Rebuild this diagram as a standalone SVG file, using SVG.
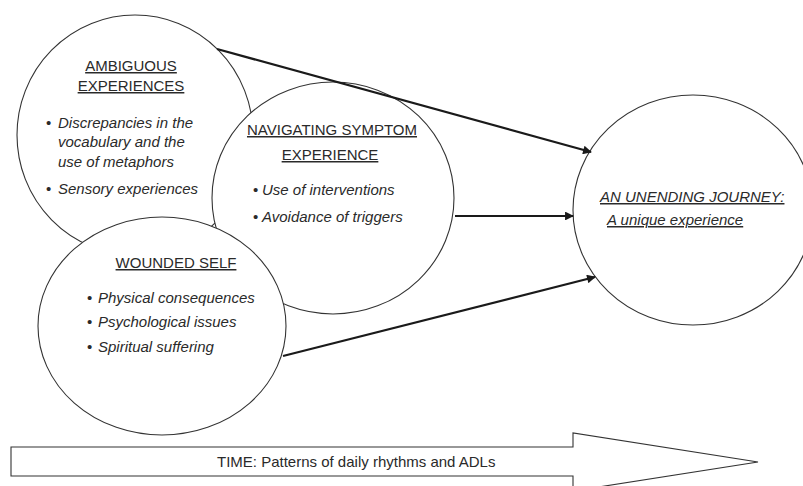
<svg xmlns="http://www.w3.org/2000/svg" width="803" height="486" viewBox="0 0 803 486">
<defs>
<style>
.circ{fill:#fff;stroke:#333;stroke-width:1.1}
.t{font-family:"Liberation Sans",Arial,sans-serif;font-size:15px;fill:#2a2a2a}
.title{text-decoration:underline}
.it{font-style:italic}
.mid{text-anchor:middle}
.conn{stroke:#1a1a1a;stroke-width:2.2;fill:none}
</style>
<marker id="ah" viewBox="0 0 10 10" refX="9" refY="5" markerWidth="5" markerHeight="4" orient="auto" markerUnits="strokeWidth">
<path d="M0,0 L10,5 L0,10 Z" fill="#1a1a1a"/>
</marker>
</defs>
<rect width="803" height="486" fill="#fff"/>
<g id="ambiguous">
<ellipse class="circ" cx="135" cy="135" rx="118" ry="120"/>
<text class="t title mid" x="131" y="71">AMBIGUOUS</text>
<text class="t title mid" x="131" y="91">EXPERIENCES</text>
<text class="t" x="46" y="128">•</text>
<text class="t it" x="58" y="128">Discrepancies in the</text>
<text class="t it" x="58" y="147">vocabulary and the</text>
<text class="t it" x="58" y="167">use of metaphors</text>
<text class="t" x="46" y="194">•</text>
<text class="t it" x="58" y="194">Sensory experiences</text>
</g>
<g id="navigating">
<ellipse class="circ" cx="333" cy="198" rx="121" ry="116"/>
<text class="t title mid" x="332" y="135">NAVIGATING SYMPTOM</text>
<text class="t title mid" x="330" y="160">EXPERIENCE</text>
<text class="t" x="253" y="195">•</text>
<text class="t it" x="262" y="195">Use of interventions</text>
<text class="t" x="253" y="222">•</text>
<text class="t it" x="262" y="222">Avoidance of triggers</text>
</g>
<g id="wounded">
<ellipse class="circ" cx="162" cy="326" rx="124" ry="109"/>
<text class="t title mid" x="176" y="268">WOUNDED SELF</text>
<text class="t" x="87" y="303">•</text>
<text class="t it" x="98" y="303">Physical consequences</text>
<text class="t" x="87" y="327">•</text>
<text class="t it" x="98" y="327">Psychological issues</text>
<text class="t" x="87" y="352">•</text>
<text class="t it" x="98" y="352">Spiritual suffering</text>
</g>
<g id="journey">
<ellipse class="circ" cx="693" cy="210" rx="120" ry="115"/>
<text class="t title it" x="600" y="202">AN UNENDING JOURNEY:</text>
<text class="t title it" x="607" y="225">A unique experience</text>
</g>
<g id="connectors">
<line class="conn" x1="217" y1="49" x2="591" y2="152" marker-end="url(#ah)"/>
<line class="conn" x1="455" y1="216" x2="573" y2="216" marker-end="url(#ah)"/>
<line class="conn" x1="283" y1="356" x2="595" y2="277" marker-end="url(#ah)"/>
</g>
<g id="time">
<polygon points="11,447 573,447 573,433 758,462 573,491 573,476 11,476" fill="#fff" stroke="#333" stroke-width="1.1"/>
<text class="t" x="217" y="467">TIME: Patterns of daily rhythms and ADLs</text>
</g>
</svg>
